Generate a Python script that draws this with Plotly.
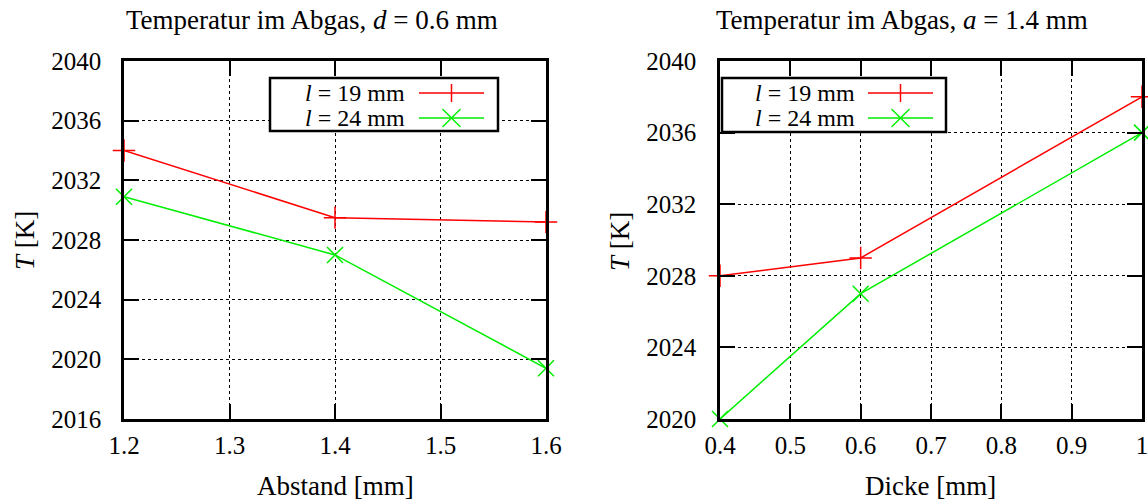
import plotly.graph_objects as go

# ---- data ----
abstand = [1.2, 1.4, 1.6]
abstand_l19 = [2034.0, 2029.5, 2029.2]
abstand_l24 = [2030.9, 2027.0, 2019.4]

dicke = [0.4, 0.6, 1.0]
dicke_l19 = [2028.0, 2029.0, 2038.0]
dicke_l24 = [2020.0, 2027.0, 2036.0]

# tick labels
abstand_ticks = [1.2, 1.3, 1.4, 1.5, 1.6]
abstand_ticktext = ["1.2", "1.3", "1.4", "1.5", "1.6"]
dicke_ticks = [0.4, 0.5, 0.6, 0.7, 0.8, 0.9, 1.0]
dicke_ticktext = ["0.4", "0.5", "0.6", "0.7", "0.8", "0.9", "1"]
left_yticks = [2016, 2020, 2024, 2028, 2032, 2036, 2040]
right_yticks = [2020, 2024, 2028, 2032, 2036, 2040]

series_names = ["<i>l</i> = 19 mm", "<i>l</i> = 24 mm"]
series_colors = ["#ff0000", "#00ee00"]
series_symbols = ["cross-thin", "x-thin"]

left_title = "Temperatur im Abgas, <i>d</i> = 0.6 mm"
right_title = "Temperatur im Abgas, <i>a</i> = 1.4 mm"
left_xlabel = "Abstand [mm]"
right_xlabel = "Dicke [mm]"
ylabel = "<i>T</i> [K]"

W, H = 1148, 501
FONT = "Liberation Serif, DejaVu Serif, serif"

def px(x):
    return x / W

def py(y):
    return 1 - y / H

fig = go.Figure()

def add_series(xs, ys, idx, xa, ya):
    fig.add_trace(go.Scatter(
        x=xs, y=ys, mode="lines+markers", name=series_names[idx],
        xaxis=xa, yaxis=ya, cliponaxis=False, showlegend=False,
        line=dict(color=series_colors[idx], width=1.5),
        marker=dict(symbol=series_symbols[idx], size=16,
                    color=series_colors[idx],
                    line=dict(color=series_colors[idx], width=1.5)),
    ))

add_series(abstand, abstand_l19, 0, "x", "y")
add_series(abstand, abstand_l24, 1, "x", "y")
add_series(dicke, dicke_l19, 0, "x2", "y2")
add_series(dicke, dicke_l24, 1, "x2", "y2")

axis_common = dict(
    showline=True, linecolor="black", linewidth=2.5, mirror="ticks",
    ticks="inside", ticklen=15, tickwidth=2, tickcolor="black",
    showgrid=True, gridcolor="black", gridwidth=1, griddash="dot",
    zeroline=False, automargin=False, tickmode="array",
    ticklabeloverflow="allow",
    tickfont=dict(family=FONT, size=25, color="black"),
)

ydom = [py(419), py(61)]
fig.update_layout(
    width=W, height=H,
    margin=dict(l=0, r=0, t=0, b=0, autoexpand=False),
    paper_bgcolor="white", plot_bgcolor="white",
    showlegend=False,
    xaxis=dict(domain=[px(124), px(546)], range=[1.2, 1.6],
               tickvals=abstand_ticks, ticktext=abstand_ticktext,
               anchor="y", ticklabelstandoff=2, **axis_common),
    yaxis=dict(domain=ydom, range=[2016, 2040],
               tickvals=left_yticks, ticktext=[str(v) for v in left_yticks],
               anchor="x", ticklabelstandoff=15, **axis_common),
    xaxis2=dict(domain=[px(720), px(1142)], range=[0.4, 1.0],
                tickvals=dicke_ticks, ticktext=dicke_ticktext,
                anchor="y2", ticklabelstandoff=2, **axis_common),
    yaxis2=dict(domain=ydom, range=[2020, 2040],
                tickvals=right_yticks, ticktext=[str(v) for v in right_yticks],
                anchor="x2", ticklabelstandoff=16, **axis_common),
)

annotations = []
def text(x, y, s, size=27, angle=0, xanchor="center"):
    annotations.append(dict(
        x=px(x), y=py(y), xref="paper", yref="paper", text=s,
        showarrow=False, xanchor=xanchor, yanchor="middle", textangle=angle,
        font=dict(family=FONT, size=size, color="black"),
    ))

text(312, 20, left_title)
text(902, 20, right_title)
text(335, 486, left_xlabel)
text(930, 486, right_xlabel)
text(25, 241, ylabel, angle=-90)
text(620, 242, ylabel, angle=-90)

shapes = []
def legend(x0, x1, y0, y1, tx_right, lx0, lx1, rows):
    shapes.append(dict(type="rect", xref="paper", yref="paper",
                       x0=px(x0), x1=px(x1), y0=py(y1), y1=py(y0),
                       line=dict(color="black", width=2.5), fillcolor="white",
                       layer="above"))
    for i, yy in enumerate(rows):
        text(tx_right, yy, series_names[i], size=24, xanchor="right")
        c = series_colors[i]
        shapes.append(dict(type="line", xref="paper", yref="paper",
                           x0=px(lx0), x1=px(lx1), y0=py(yy), y1=py(yy),
                           line=dict(color=c, width=1.5), layer="above"))
        cx = (lx0 + lx1) / 2
        h = 9
        if i == 0:
            segs = [(cx, yy - h, cx, yy + h)]
        else:
            segs = [(cx - h, yy - h, cx + h, yy + h),
                    (cx - h, yy + h, cx + h, yy - h)]
        for (a, b, cc, d) in segs:
            shapes.append(dict(type="line", xref="paper", yref="paper",
                               x0=px(a), y0=py(b), x1=px(cc), y1=py(d),
                               line=dict(color=c, width=1.5), layer="above"))

legend(270, 498, 78, 131, 407, 419, 484, [93, 118])
legend(722, 946, 78, 132, 857, 868, 933, [93, 118])

fig.update_layout(annotations=annotations, shapes=shapes)

fig.write_html("out.html")
